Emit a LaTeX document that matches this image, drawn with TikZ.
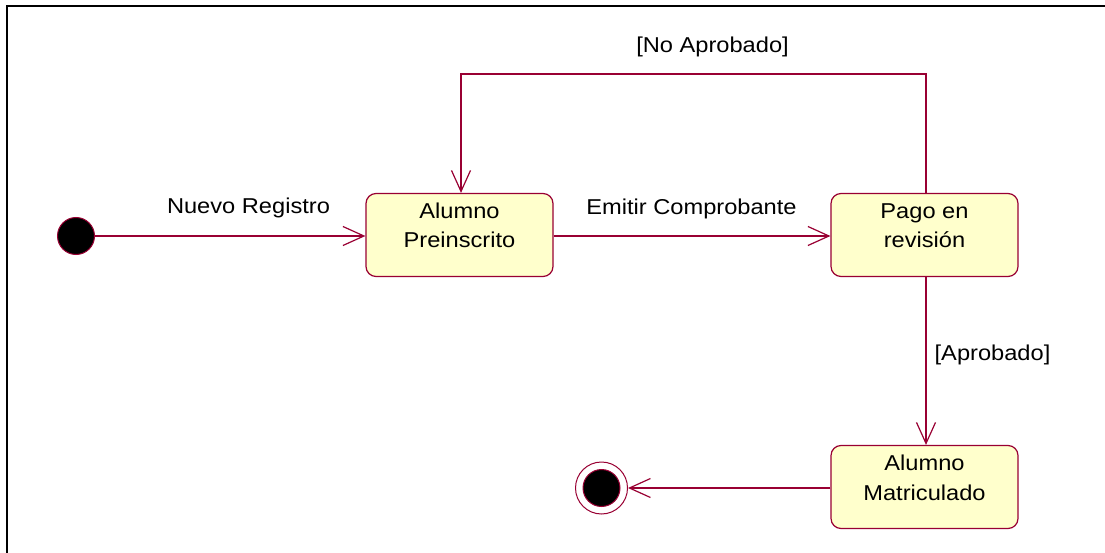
\documentclass[tikz,border=0pt]{standalone}
\usepackage{fontspec}
\setmainfont{Liberation Sans}[FakeStretch=1.1]
\usetikzlibrary{arrows.meta}
\definecolor{umlline}{RGB}{153,0,51}
\definecolor{umlfill}{RGB}{255,255,204}
\begin{document}
\begin{tikzpicture}[x=1pt,y=-1pt,
  statebox/.style={draw=umlline, fill=umlfill, line width=1.2pt, rounded corners=10pt,
    minimum width=187pt, minimum height=83pt, inner sep=0pt},
  statetext/.style={align=center, inner sep=0pt, font=\fontsize{21.5}{29.5}\selectfont},
  guard/.style={inner sep=0pt, anchor=base, font=\fontsize{21.5}{25}\selectfont},
  pseudo/.style={circle, fill=black, draw=umlline, line width=1pt, minimum size=37pt, inner sep=0pt},
  trans/.style={draw=umlline, line width=1.2pt,
    -{Straight Barb[length=21pt,width=19pt,line width=1.2pt]}},
]
% page and frame
\fill[white] (0,0) rectangle (1105,553);
\useasboundingbox (0,0) rectangle (1105,553);
\draw[line width=1.8pt, black] (7,553) -- (7,6) -- (1105,6);

% states
\node[statebox] (pre) at (459.5,235) {};
\node[statetext] (preT) at (459.5,225.5) {Alumno\\Preinscrito};
\node[statebox] (pago) at (924.5,235) {};
\node[statetext] (pagoT) at (924.5,225.5) {Pago en\\revisión};
\node[statebox] (mat) at (924.5,487) {};
\node[statetext] (matT) at (924.5,478) {Alumno\\Matriculado};

% initial and final pseudostates
\node[pseudo] (init) at (76,236) {};
\node[circle, draw=umlline, fill=white, line width=1pt, minimum size=52pt, inner sep=0pt] (fin) at (601.5,488) {};
\node[pseudo] (finC) at (fin) {};

% transitions
\coordinate (loopR) at (926,74);
\coordinate (loopL) at (461,74);
\draw[trans] (init) -- (pre.west |- init);
\draw[trans] (pre.east |- init) -- (pago.west |- init);
\draw[trans] (pago.north -| loopR) -- (loopR) -- (loopL) -- (loopL |- pre.north);
\draw[trans] (pago.south -| loopR) -- (loopR |- mat.north);
\draw[trans] (mat.west |- fin) -- (fin);

% guards and events
\node[guard] (g1) at (248.5,214) {Nuevo Registro};
\node[guard] (g2) at (691.5,215) {Emitir Comprobante};
\node[guard] (g3) at (712.5,53) {[No Aprobado]};
\node[guard] (g4) at (992.5,360) {[Aprobado]};
\end{tikzpicture}
\end{document}
